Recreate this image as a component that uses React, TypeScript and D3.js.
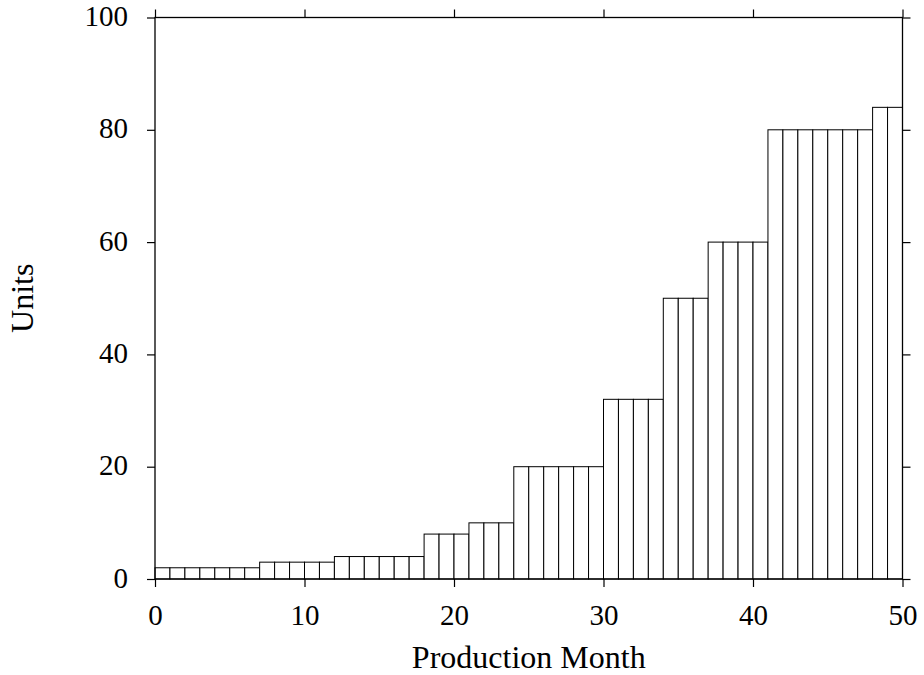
import React, { useRef, useEffect } from 'react';
import * as d3 from 'd3';

// months 0..49, one bar per month
const months: number[] = d3.range(0, 50);
const units: number[] = [
  2, 2, 2, 2, 2, 2, 2,
  3, 3, 3, 3, 3,
  4, 4, 4, 4, 4, 4,
  8, 8, 8,
  10, 10, 10,
  20, 20, 20, 20, 20, 20,
  32, 32, 32, 32,
  50, 50, 50,
  60, 60, 60, 60,
  80, 80, 80, 80, 80, 80, 80,
  84, 84,
];
const xTicks = [0, 10, 20, 30, 40, 50];
const yTicks = [0, 20, 40, 60, 80, 100];
const xLabel = 'Production Month';
const yLabel = 'Units';

const W = 924;
const H = 675;
const FONT = '"Liberation Serif", "DejaVu Serif", serif';

export default function App() {
  const svgRef = useRef<SVGSVGElement>(null);

  useEffect(() => {
    const svgEl = d3.select(svgRef.current);
    svgEl.selectAll('*').remove();

    const left = 155;
    const right = 902.5;
    const top = 17.5;
    const bottom = 579;

    const x = d3.scaleLinear().domain([0, 50]).range([left, right]);
    const y = d3.scaleLinear().domain([0, 100]).range([bottom, top]);

    svgEl.append('rect').attr('width', W).attr('height', H).attr('fill', 'white');

    // bars
    svgEl
      .append('g')
      .selectAll('rect')
      .data(months)
      .enter()
      .append('rect')
      .attr('x', (d) => x(d))
      .attr('y', (d, i) => y(units[i]))
      .attr('width', (d) => x(d + 1) - x(d))
      .attr('height', (d, i) => y(0) - y(units[i]))
      .attr('fill', 'white')
      .attr('stroke', 'black')
      .attr('stroke-width', 1);

    const styleAxis = (g: any) => {
      g.select('.domain').remove();
      g.selectAll('line').attr('stroke', 'black').attr('stroke-width', 1.2);
      g.selectAll('text')
        .attr('font-family', FONT)
        .attr('font-size', 29)
        .attr('fill', 'black');
    };

    const bottomAxis = svgEl
      .append('g')
      .attr('transform', `translate(0,${bottom})`)
      .call(d3.axisBottom(x).tickValues(xTicks).tickSize(8).tickPadding(17).tickFormat(d3.format('d')));
    styleAxis(bottomAxis);

    const topAxis = svgEl
      .append('g')
      .attr('transform', `translate(0,${top})`)
      .call(d3.axisTop(x).tickValues(xTicks).tickSize(8).tickFormat(() => ''));
    styleAxis(topAxis);

    const leftAxis = svgEl
      .append('g')
      .attr('transform', `translate(${left},0)`)
      .call(d3.axisLeft(y).tickValues(yTicks).tickSize(8).tickPadding(19).tickFormat(d3.format('d')));
    styleAxis(leftAxis);
    leftAxis.selectAll('text').attr('dy', '0.28em');

    const rightAxis = svgEl
      .append('g')
      .attr('transform', `translate(${right},0)`)
      .call(d3.axisRight(y).tickValues(yTicks).tickSize(8).tickFormat(() => ''));
    styleAxis(rightAxis);

    // frame
    svgEl
      .append('rect')
      .attr('x', left)
      .attr('y', top)
      .attr('width', right - left)
      .attr('height', bottom - top)
      .attr('fill', 'none')
      .attr('stroke', 'black')
      .attr('stroke-width', 1.3);

    svgEl
      .append('text')
      .attr('x', (left + right) / 2)
      .attr('y', 668)
      .attr('text-anchor', 'middle')
      .attr('font-family', FONT)
      .attr('font-size', 32)
      .text(xLabel);

    svgEl
      .append('text')
      .attr('transform', `translate(33,${(top + bottom) / 2}) rotate(-90)`)
      .attr('text-anchor', 'middle')
      .attr('font-family', FONT)
      .attr('font-size', 32)
      .text(yLabel);
  }, []);

  return (
    <svg
      ref={svgRef}
      width={W}
      height={H}
      style={{ position: 'absolute', left: 0, top: 0, display: 'block' }}
    />
  );
}
